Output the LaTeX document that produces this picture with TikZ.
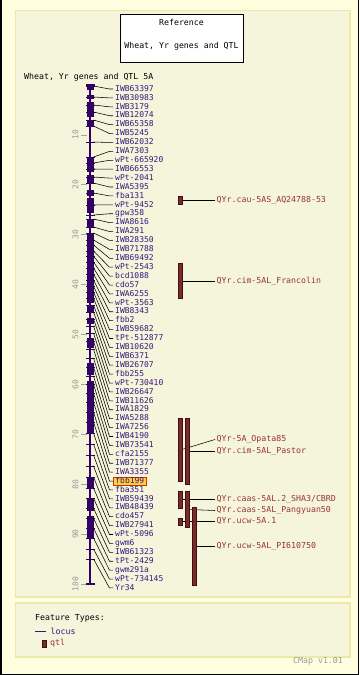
\documentclass[tikz,border=0pt]{standalone}
\usepackage{fontspec}
\newfontfamily\monof{DejaVu Sans Mono}
\definecolor{outerbg}{HTML}{FFFFE0}
\definecolor{panelbg}{HTML}{F5F5DC}
\definecolor{panelbd}{HTML}{EEE8AA}
\definecolor{chromc}{HTML}{330066}
\definecolor{mtext}{HTML}{3A1582}
\definecolor{qtlc}{HTML}{7A2A2A}
\definecolor{qtlbd}{HTML}{401010}
\definecolor{qtext}{HTML}{993333}
\definecolor{hlfill}{HTML}{FFD040}
\definecolor{hlbd}{HTML}{CC3300}
\tikzset{
  mlabel/.style={anchor=west, inner xsep=2pt, inner ysep=0.5pt, text=mtext, font=\monof\fontsize{8}{9}\selectfont, text height=5.8pt, text depth=1.4pt},
  mlabelhl/.style={mlabel, fill=hlfill, draw=hlbd, line width=0.8pt},
  conn/.style={black, line width=0.55pt},
  qtlbar/.style={fill=qtlc, draw=qtlbd, line width=0.4pt, minimum width=3.6pt, inner sep=0pt},
  qlabel/.style={anchor=west, inner xsep=1.5pt, inner ysep=0pt, text=qtext, font=\monof\fontsize{8.25}{9}\selectfont, text height=5.8pt, text depth=1.4pt},
  plain/.style={font=\monof\fontsize{8.25}{9}\selectfont, inner sep=0pt},
  scalelab/.style={font=\monof\fontsize{8}{9}\selectfont, text=gray!80, inner sep=0pt, rotate=90},
}
\begin{document}
\begin{tikzpicture}[x=1pt,y=-1pt]
\useasboundingbox (0,0) rectangle (359,675);
% backgrounds
\fill[outerbg] (0,0) rectangle (359,675);
\draw[black, line width=1.5pt] (0.75,0) -- (0.75,674.25) -- (358.25,674.25) -- (358.25,0);
\draw[panelbd, line width=1.5pt, fill=panelbg] (15.5,10.5) rectangle (350,597);
\draw[panelbd, line width=1.5pt, fill=panelbg] (15.5,603) rectangle (350,657);
% reference box
\node[draw=black, fill=white, line width=0.8pt, minimum width=123pt, minimum height=48pt, inner sep=0pt] (refbox) at (181.5,38) {};
\node[plain] (reft1) at (181.5,22) {Reference};
\node[plain] (reft2) at (181.5,46) {Wheat, Yr genes and QTL};
% title
\node[plain, anchor=west] (title) at (24,77) {Wheat, Yr genes and QTL 5A};
% scale
\foreach \t in {1,...,10} {
  \pgfmathsetmacro\yy{85+49.9*\t}
  \pgfmathtruncatemacro\lab{10*\t}
  \draw[gray!70, line width=0.8pt] (81,\yy) -- (86.5,\yy);
  \node[scalelab] (sc\t) at (75.5,\yy) {\lab};
}
% chromosome backbone
\draw[chromc, line width=2pt] (90.2,85) -- (90.2,584);
\foreach \a/\b in {85/90, 95/99, 102/117, 120/127, 158/172, 175/183, 190/196, 198/213, 220/228, 233/303, 306/312, 318/324, 338/348, 363/375, 381/433, 478/489, 498/511, 516/538} {
  \fill[chromc] (87,\a) rectangle (93.5,\b);
}
\draw[chromc, line width=1.2pt] (86,85) -- (95,85);
\draw[chromc, line width=1.2pt] (86,584) -- (95,584);
% markers
\foreach \nm/\M [count=\i from 0] in {IWB63397/86, IWB30983/97, IWB3179/105, IWB12074/112, IWB65358/120, IWB5245/126, IWB62032/142, IWA7303/157, wPt-665920/163, IWB66553/169, wPt-2041/177, IWA5395/183, fba131/193, wPt-9452/205, gpw358/215, IWA8616/219, IWA291/227, IWB28350/233, IWB71788/240, IWB69492/245, wPt-2543/251, bcd1088/256, cdo57/262, IWA6255/268, wPt-3563/274, IWB8343/280, fbb2/286, IWB59682/292, tPt-512877/298, IWB10620/305, IWB6371/312, IWB26707/319, fbb255/326, wPt-730410/333, IWB26647/341, IWB11626/349, IWA1829/358, IWA5288/367, IWA7256/376, IWB4190/384, IWB73541/393, cfa2155/402, IWB71377/412, IWA3355/422, fbb199/433, fba351/444, IWB59439/455, IWB48439/466, cdo457/477, IWB27941/488, wPt-5096/498, gwm6/508, IWB61323/518, tPt-2429/528, gwm291a/538, wPt-734145/549, Yr34/559} {
  \pgfmathsetmacro\L{89+8.91*\i}
  \draw[chromc, line width=1pt] (86,\M) -- (94.5,\M);
  \coordinate (m\i) at (93.5,\M);
  \def\sty{mlabel}
  \ifnum\i=44 \def\sty{mlabelhl}\fi
  \node[\sty] (l\i) at (113,\L) {\nm};
  \draw[conn] (m\i) -- ([xshift=-3.5pt]l\i.west) -- (l\i.west);
}
% QTL labels
\node[qlabel] (ql1) at (215,200) {QYr.cau-5AS\_AQ24788-53};
\node[qlabel] (ql2) at (215,281) {QYr.cim-5AL\_Francolin};
\node[qlabel] (qlA) at (215,439.5) {QYr-5A\_Opata85};
\node[qlabel] (qlB) at (215,451) {QYr.cim-5AL\_Pastor};
\node[qlabel] (qlC) at (215,499.5) {QYr.caas-5AL.2\_SHA3/CBRD};
\node[qlabel] (qlD) at (215,510.5) {QYr.caas-5AL\_Pangyuan50};
\node[qlabel] (qlE) at (215,521.5) {QYr.ucw-5A.1};
\node[qlabel] (qlF) at (215,546) {QYr.ucw-5AL\_PI610750};
% QTL bar anchor coordinates for connectors
\coordinate (q1c) at (182,200);
\coordinate (q2c) at (182,281);
\coordinate (qAc) at (182,449.5);
\coordinate (qBc) at (189,451);
\coordinate (qCc) at (182,499.5);
\coordinate (qDc) at (189,509.5);
\coordinate (qEc) at (182,521.5);
\coordinate (qFc) at (196,546);
\foreach \q in {1,2,A,B,C,D,E,F} {
  \draw[conn] (q\q c) -- (ql\q.west);
}
% QTL bars
\node[qtlbar, minimum height=8pt] (q1) at (180,200) {};
\node[qtlbar, minimum height=35pt] (q2) at (180,280.5) {};
\node[qtlbar, minimum height=63pt] (qA) at (180,449.5) {};
\node[qtlbar, minimum height=66pt] (qB) at (187,451) {};
\node[qtlbar, minimum height=17pt] (qC) at (180,499.5) {};
\node[qtlbar, minimum height=36pt] (qD) at (187,509) {};
\node[qtlbar, minimum height=7pt] (qE) at (180,521.5) {};
\node[qtlbar, minimum height=78pt] (qF) at (194,546) {};
% legend
\node[plain, anchor=west] (ft) at (35,618) {Feature Types:};
\coordinate (lg1) at (35,631);
\node[plain, anchor=west, text=mtext] (lgloc) at (50.5,631) {locus};
\draw[mtext, line width=1pt] (lg1) -- ([xshift=-4.5pt]lgloc.west);
\node[qtlbar, minimum height=7pt] (lgq) at (44,643.5) {};
\node[plain, anchor=west, text=qtext] (lgqtl) at (50,643) {qtl};
\node[plain, anchor=west, text=gray!80] (cmap) at (293,661.5) {CMap v1.01};
\end{tikzpicture}
\end{document}
